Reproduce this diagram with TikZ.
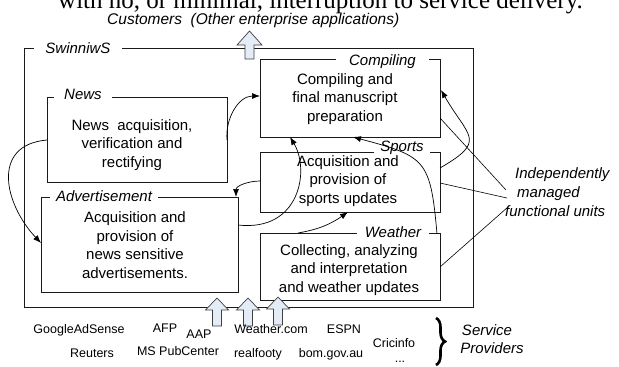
\documentclass[tikz,border=0pt]{standalone}
\usepackage{fontspec}
\setmainfont{Liberation Sans}
\newfontfamily\serifrm{Liberation Serif}
\usetikzlibrary{calc,arrows.meta,decorations.pathreplacing}
\definecolor{arrowfill}{HTML}{E4ECF7}
\definecolor{linegray}{HTML}{1A1A1A}
\newcommand\uparr[5]{%
  \draw[uparrow] (#1-4.5,#4) -- (#1-4.5,#3) -- (#1-#5,#3) -- (#1,#2) -- (#1+#5,#3) -- (#1+4.5,#3) -- (#1+4.5,#4) -- cycle;}
\begin{document}
\begin{tikzpicture}[x=1pt,y=1pt,
  unitbox/.style={draw=linegray, line width=0.8pt, inner sep=0pt, outer sep=0pt},
  lbl/.style={fill=white, inner ysep=1pt, font=\fontsize{15}{18}\selectfont\itshape},
  body/.style={align=center, inner sep=0pt, font=\fontsize{15}{18.5}\selectfont},
  conn/.style={line width=0.7pt, -{Latex[length=8pt,width=6pt]}},
  ptr/.style={line width=0.6pt},
  prov/.style={anchor=base, inner sep=0pt, font=\fontsize{12.5}{14}\selectfont},
  note/.style={inner sep=0pt, font=\fontsize{15}{18}\selectfont\itshape},
  uparrow/.style={draw=black!75, fill=arrowfill, line width=0.7pt, line join=miter}]
\useasboundingbox (0,0) rectangle (619,-367);
\clip (0,0) rectangle (619,-367);

% cropped heading line
\node[anchor=base west, inner sep=0pt, font=\serifrm\fontsize{25}{28}\selectfont] (hdr) at (58,-8) {with no, or minimal, interruption to service delivery.};

% boxes
\node[unitbox, minimum width=449pt, minimum height=259pt] (sw) at (248.5,-177.5) {};
\node[unitbox, minimum width=180pt, minimum height=78pt] (comp) at (350,-98) {};
\node[unitbox, minimum width=180pt, minimum height=60pt] (sports) at (350,-182) {};
\node[unitbox, minimum width=180pt, minimum height=67pt] (weather) at (350,-266.5) {};
\node[unitbox, minimum width=180pt, minimum height=85pt] (news) at (137,-139.5) {};
\node[unitbox, minimum width=197pt, minimum height=95pt] (adv) at (139.5,-244.5) {};

% labels
\node[lbl, inner xsep=11pt] (swl) at (78,-48) {SwinniwS};
\node[lbl, inner xsep=13pt] (compl) at (382.5,-62) {Compiling};
\node[lbl, inner xsep=6pt] (sportsl) at (402,-148) {Sports};
\node[lbl, inner xsep=8pt] (weatherl) at (393,-232) {Weather};
\node[lbl, inner xsep=10pt] (newsl) at (83,-94) {News};
\node[lbl, inner xsep=6pt] (advl) at (104,-196) {Advertisement};

% box texts
\node[body] (newst) at (132,-145) {News\ \ acquisition,\\verification and\\rectifying};
\node[body] (compt) at (345,-99) {Compiling and\\final manuscript\\preparation};
\node[body] (sportst) at (348,-181) {Acquisition and\\provision of\\sports updates};
\node[body] (weathert) at (349,-270) {Collecting, analyzing\\and interpretation\\and weather updates};
\node[body] (advt) at (135,-245) {Acquisition and\\provision of\\news sensitive\\advertisements.};

% connectors
\draw[conn] ($(news.north east)+(0,-43)$) to[out=95,in=180] ($(comp.north west)+(0,-37)$);
\draw[conn] ($(news.north west)+(0,-43)$) .. controls +(-57,-5) and +(-36,38) .. ($(adv.north west)+(0,-46)$);
\draw[conn] ($(sports.north west)+(0,-29)$) to[out=180,in=90] ($(adv.north east)+(-2,0)$);
\draw[conn] ($(adv.north east)+(0,-28)$) .. controls +(62,-7) and +(20,-33) .. ($(comp.south west)+(30,0)$);
\draw[conn] ($(weather.north west)+(38,0)$) to[out=10,in=215] ($(sports.south west)+(88,0)$);
\draw[conn] ($(weather.north east)+(-3,-1)$) to[out=95,in=-15,looseness=1.5] ($(comp.south west)+(93,0)$);
\draw[conn] ($(sports.north east)+(0,-16)$) to[out=30,in=-60,looseness=1.8] ($(comp.north east)+(1,-31)$);

% pointer lines
\coordinate (p1) at (506,-190);
\coordinate (p2) at (507,-198);
\coordinate (p3) at (508,-207);
\draw[ptr] ($(comp.north east)+(0,-59)$) -- (p1);
\draw[ptr] ($(sports.north east)+(0,-31)$) -- (p2);
\draw[ptr] ($(weather.north east)+(0,-34)$) -- (p3);

\node[note, anchor=base west] (ind1) at (515,-178) {Independently};
\node[note, anchor=base west] (ind2) at (517,-197) {managed};
\node[note, anchor=base west] (ind3) at (505,-216) {functional units};

% customers
\node[note, anchor=base west, font=\fontsize{15.5}{18}\selectfont\itshape] (cust) at (107,-24) {Customers\ \ (Other enterprise applications)};

% block arrows
\uparr{249.5}{-31}{-45}{-59}{12.5}
\uparr{217}{-298}{-310}{-326}{11.5}
\uparr{248}{-298}{-310}{-326}{11.5}
\uparr{278}{-297}{-309}{-325}{11.5}

% providers
\node[prov] (g1) at (79,-333.5) {GoogleAdSense};
\node[prov] (g2) at (92,-357) {Reuters};
\node[prov] (g3) at (165,-332) {AFP};
\node[prov] (g4) at (199,-338) {AAP};
\node[prov] (g5) at (178,-355) {MS PubCenter};
\node[prov] (g6) at (271,-333) {Weather.com};
\node[prov] (g7) at (258,-357) {realfooty};
\node[prov] (g8) at (344,-333) {ESPN};
\node[prov] (g9) at (331,-357) {bom.gov.au};
\node[prov] (g10) at (394,-347) {Cricinfo};
\node[prov] (g11) at (400,-362) {...};

\draw[decorate, decoration={brace, amplitude=9pt}, line width=2.6pt] (436,-318) -- (436,-365);
\node[note, anchor=base] (sp1) at (487,-335) {Service};
\node[note, anchor=base] (sp2) at (492,-353) {Providers};
\end{tikzpicture}
\end{document}
